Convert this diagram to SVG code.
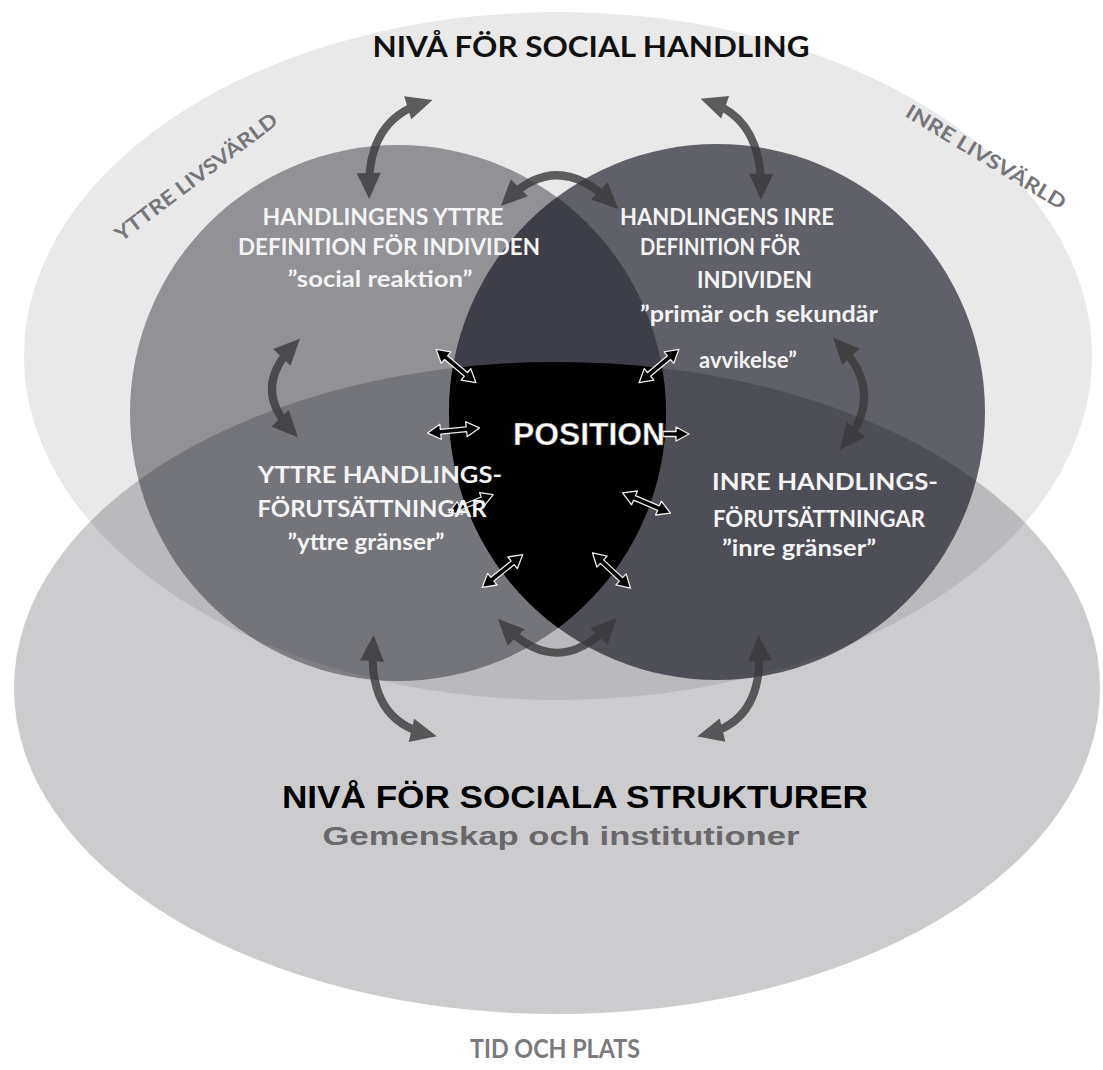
<svg xmlns="http://www.w3.org/2000/svg" width="1103" height="1070" viewBox="0 0 1103 1070">
<style>
.lbl{font-family:Lato,"Open Sans","Liberation Sans",sans-serif;font-weight:bold;font-size:22px;fill:#f4f4f4}
.big{stroke:#3a3a3c;stroke-width:8;fill:none;marker-start:url(#hd);marker-end:url(#hd)}
.sm{fill:#000;stroke:#f0f0f0;stroke-width:1.3;stroke-linejoin:round}
.world{font-family:Lato,"Open Sans","Liberation Sans",sans-serif;font-weight:bold;font-size:20px;fill:#76767a}
</style>
<defs>
<marker id="hd" markerUnits="userSpaceOnUse" markerWidth="26" markerHeight="24" refX="16" refY="12" orient="auto-start-reverse" overflow="visible">
<path d="M0,0 L26,12 L0,24 Z" fill="#3a3a3c"/>
</marker>
<path id="dbl" d="M-26,0 L-13,-7.5 L-13,-2.4 L13,-2.4 L13,-7.5 L26,0 L13,7.5 L13,2.4 L-13,2.4 L-13,7.5 Z"/>
<clipPath id="cL"><circle cx="398" cy="413" r="268"/></clipPath>
<clipPath id="cR"><circle cx="717" cy="412" r="268"/></clipPath>
</defs>
<rect width="1103" height="1070" fill="#fff"/>
<g id="level-action"><ellipse cx="558" cy="356" rx="534" ry="344" fill="#0c0c18" fill-opacity="0.09"/></g>
<g id="level-structures"><ellipse cx="557" cy="688" rx="543" ry="326" fill="#0c0c18" fill-opacity="0.21"/></g>
<g id="outer-circle"><circle cx="398" cy="413" r="268" fill="#0c0c18" fill-opacity="0.40"/></g>
<g id="inner-circle"><circle cx="717" cy="412" r="268" fill="#0c0c18" fill-opacity="0.62"/></g>
<g id="position">
<g clip-path="url(#cL)"><g clip-path="url(#cR)"><ellipse cx="557" cy="688" rx="543" ry="326" fill="#000"/></g></g>
</g>
<g id="connectors">
<g opacity="0.8">
<path class="big" d="M423,103 Q368,120 369,189"/>
<path class="big" d="M710,102 Q762,120 761,190"/>
<path class="big" d="M508,199 Q557,150 611,202"/>
<path class="big" d="M293,346 Q252,388 291,430"/>
<path class="big" d="M840,345 Q885,393 846,442"/>
<path class="big" d="M373,645 Q368,720 427,734"/>
<path class="big" d="M759,645 Q764,720 707,734"/>
<path class="big" d="M505,626 Q557,680 610,625"/>
</g>
<use href="#dbl" class="sm" transform="translate(456,366) rotate(40)"/>
<use href="#dbl" class="sm" transform="translate(453.5,430.5) rotate(-5.6)"/>
<use href="#dbl" class="sm" transform="translate(471,503.5) rotate(-22) scale(0.92)"/>
<use href="#dbl" class="sm" transform="translate(502.5,571) rotate(-39)"/>
<use href="#dbl" class="sm" transform="translate(659,366) rotate(-40)"/>
<use href="#dbl" class="sm" transform="translate(646.5,503) rotate(23)"/>
<use href="#dbl" class="sm" transform="translate(611.5,570.5) rotate(43)"/>
<path class="sm" d="M663,431.5 L676,431.5 L676,427 L689,434 L676,441 L676,436.5 L663,436.5 Z"/>
</g>
<g id="title"><text x="591" y="57" text-anchor="middle" textLength="437" lengthAdjust="spacingAndGlyphs" font-family="Lato,'Open Sans','Liberation Sans',sans-serif" font-weight="bold" font-size="29" fill="#111">NIVÅ FÖR SOCIAL HANDLING</text></g>
<g id="yttre-livsvarld"><text class="world" transform="translate(196,177) rotate(-37)" x="0" y="7" text-anchor="middle" textLength="198" lengthAdjust="spacingAndGlyphs">YTTRE LIVSVÄRLD</text></g>
<g id="inre-livsvarld"><text class="world" transform="translate(986,157) rotate(31)" x="0" y="7" text-anchor="middle" textLength="183" lengthAdjust="spacingAndGlyphs">INRE LIVSVÄRLD</text></g>
<g id="outer-definition">
<text class="lbl" x="383" y="225" text-anchor="middle" textLength="241" lengthAdjust="spacingAndGlyphs">HANDLINGENS YTTRE</text>
<text class="lbl" x="389" y="255" text-anchor="middle" textLength="302" lengthAdjust="spacingAndGlyphs">DEFINITION FÖR INDIVIDEN</text>
<text class="lbl" x="380" y="287" text-anchor="middle" textLength="185" lengthAdjust="spacingAndGlyphs">”social reaktion”</text>
</g>
<g id="inner-definition">
<text class="lbl" x="727" y="225" text-anchor="middle" textLength="214" lengthAdjust="spacingAndGlyphs">HANDLINGENS INRE</text>
<text class="lbl" x="720" y="255" text-anchor="middle" textLength="160" lengthAdjust="spacingAndGlyphs">DEFINITION FÖR</text>
<text class="lbl" x="697" y="288">INDIVIDEN</text>
<text class="lbl" x="640" y="322" textLength="238" lengthAdjust="spacingAndGlyphs">”primär och sekundär</text>
<text class="lbl" x="699" y="368">avvikelse”</text>
</g>
<g id="outer-conditions">
<text class="lbl" x="380" y="483" text-anchor="middle" textLength="244" lengthAdjust="spacingAndGlyphs">YTTRE HANDLINGS-</text>
<text class="lbl" x="372" y="517" text-anchor="middle" textLength="229" lengthAdjust="spacingAndGlyphs">FÖRUTSÄTTNINGAR</text>
<text class="lbl" x="366" y="550" text-anchor="middle" textLength="157" lengthAdjust="spacingAndGlyphs">”yttre gränser”</text>
</g>
<g id="inner-conditions">
<text class="lbl" x="712" y="490" textLength="226" lengthAdjust="spacingAndGlyphs">INRE HANDLINGS-</text>
<text class="lbl" x="713" y="527" textLength="212" lengthAdjust="spacingAndGlyphs">FÖRUTSÄTTNINGAR</text>
<text class="lbl" x="722" y="556" textLength="154" lengthAdjust="spacingAndGlyphs">”inre gränser”</text>
</g>
<g id="position-label"><text x="513" y="445" textLength="152" lengthAdjust="spacingAndGlyphs" font-family="'Liberation Sans',Arial,sans-serif" font-weight="bold" font-size="32" fill="#fff" stroke="#555" stroke-width="0.5">POSITION</text></g>
<g id="structures-label">
<text x="575" y="808" text-anchor="middle" textLength="586" lengthAdjust="spacingAndGlyphs" font-family="'Liberation Sans',Arial,sans-serif" font-weight="bold" font-size="31" fill="#000">NIVÅ FÖR SOCIALA STRUKTURER</text>
<text x="561" y="845" text-anchor="middle" textLength="477" lengthAdjust="spacingAndGlyphs" font-family="'Liberation Sans',Arial,sans-serif" font-weight="bold" font-size="25" fill="#68686a">Gemenskap och institutioner</text>
</g>
<g id="time-place"><text x="555" y="1058" text-anchor="middle" textLength="170" lengthAdjust="spacingAndGlyphs" font-family="Lato,'Open Sans','Liberation Sans',sans-serif" font-weight="bold" font-size="26" fill="#7a7a7c">TID OCH PLATS</text></g>
</svg>
